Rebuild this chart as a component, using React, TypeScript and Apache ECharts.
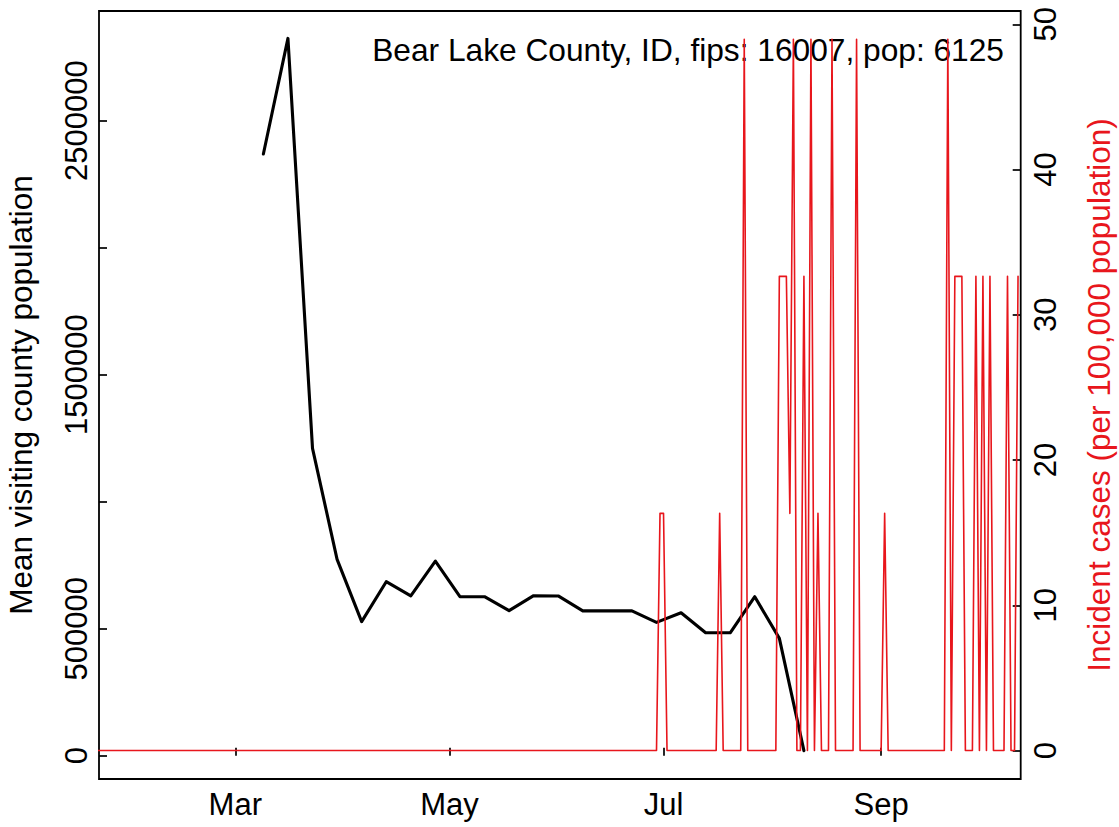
import React, { useEffect, useRef } from "react";
import * as echarts from "echarts";

// Weekly mean visiting county population (black line, left axis)
const visitDates = [
  "2020-03-09", "2020-03-16", "2020-03-23", "2020-03-30", "2020-04-06", "2020-04-13",
  "2020-04-20", "2020-04-27", "2020-05-04", "2020-05-11", "2020-05-18", "2020-05-25",
  "2020-06-01", "2020-06-08", "2020-06-15", "2020-06-22", "2020-06-29", "2020-07-06",
  "2020-07-13", "2020-07-20", "2020-07-27", "2020-08-03", "2020-08-10",
];
const visitValues = [
  2369000, 2824000, 1210000, 773000, 528000, 685000,
  629000, 766000, 626000, 626000, 571000, 630000,
  629000, 570000, 570000, 570000, 525000, 563000,
  484000, 484000, 626000, 462000, 20000,
];

// Daily incident cases per 100,000 (red line, right axis) - vertices of the line
const caseDates = [
  "2020-01-22", "2020-06-29", "2020-06-30", "2020-07-01", "2020-07-02", "2020-07-16",
  "2020-07-17", "2020-07-18", "2020-07-23", "2020-07-24", "2020-07-25", "2020-08-02",
  "2020-08-03", "2020-08-04", "2020-08-05", "2020-08-06", "2020-08-07", "2020-08-08",
  "2020-08-09", "2020-08-10", "2020-08-11", "2020-08-12", "2020-08-13", "2020-08-14",
  "2020-08-15", "2020-08-17", "2020-08-18", "2020-08-19", "2020-08-24", "2020-08-25",
  "2020-08-26", "2020-09-01", "2020-09-02", "2020-09-03",
  "2020-09-19", "2020-09-20", "2020-09-21", "2020-09-22", "2020-09-23", "2020-09-24",
  "2020-09-25", "2020-09-27", "2020-09-28", "2020-09-29", "2020-09-30", "2020-10-01",
  "2020-10-02", "2020-10-03", "2020-10-06", "2020-10-07", "2020-10-08", "2020-10-09",
  "2020-10-10",
];
const caseValues = [
  0, 0, 16.33, 16.33, 0, 0,
  16.33, 0, 0, 48.98, 0, 0,
  32.65, 32.65, 32.65, 16.33, 48.98, 0,
  0, 32.65, 0, 48.98, 0, 16.33,
  0, 0, 48.98, 0, 0, 48.98,
  0, 0, 16.33, 0,
  0, 48.98, 0, 32.65, 32.65, 32.65,
  0, 0, 32.65, 0, 32.65, 0,
  32.65, 0, 0, 32.65, 0, 0,
  32.65,
];

const monthTickDates = ["2020-03-01", "2020-05-01", "2020-07-01", "2020-09-01"];
const monthTickLabels = ["Mar", "May", "Jul", "Sep"];
const leftTickValues = [0, 500000, 1000000, 1500000, 2000000, 2500000];
const leftLabelValues = [0, 500000, 1500000, 2500000];
const rightTickValues = [0, 10, 20, 30, 40, 50];

const titleText = "Bear Lake County, ID, fips: 16007, pop: 6125";
const leftAxisName = "Mean visiting county population";
const rightAxisName = "Incident cases (per 100,000 population)";

const toTs = (s: string) => {
  const [y, m, d] = s.split("-").map(Number);
  return Date.UTC(y, m - 1, d);
};
const DAY = 86400000;
const FONT = "'Liberation Sans', Arial, Helvetica, sans-serif";
const RED = "#E8161C";

export default function App() {
  const ref = useRef<HTMLDivElement>(null);

  useEffect(() => {
    if (!ref.current) return;
    const chart = echarts.init(ref.current, null, { renderer: "svg" });
    const mar1 = toTs("2020-03-01");
    const monthTs = monthTickDates.map(toTs);

    chart.setOption({
      animation: false,
      backgroundColor: "#ffffff",
      grid: {
        left: 99,
        right: 98.3,
        top: 11,
        bottom: 48,
        show: true,
        borderColor: "#000",
        borderWidth: 1.8,
        backgroundColor: "transparent",
        containLabel: false,
        outerBoundsMode: "none",
      },
      xAxis: {
        type: "value",
        min: mar1 - 38.83 * DAY,
        max: mar1 + 223.76 * DAY,
        axisLine: { show: false },
        splitLine: { show: false },
        axisTick: {
          show: true,
          inside: true,
          length: 8,
          lineStyle: { color: "#000", width: 1.7 },
          customValues: monthTs,
        },
        axisLabel: {
          show: true,
          margin: 10,
          color: "#000",
          fontSize: 31,
          fontFamily: FONT,
          customValues: monthTs,
          formatter: (v: number) => {
            let best = 0;
            monthTs.forEach((t, i) => {
              if (Math.abs(t - v) < Math.abs(monthTs[best] - v)) best = i;
            });
            return monthTickLabels[best];
          },
        },
      },
      yAxis: [
        {
          type: "value",
          position: "left",
          min: -91732,
          max: 2931890,
          axisLine: { show: false },
          splitLine: { show: false },
          axisTick: {
            show: true,
            inside: true,
            length: 8,
            lineStyle: { color: "#000", width: 1.7 },
            customValues: leftTickValues,
          },
          axisLabel: {
            show: true,
            rotate: 90,
            margin: 7,
            color: "#000",
            fontSize: 31,
            fontFamily: FONT,
            customValues: leftLabelValues,
            formatter: (v: number) => String(Math.round(v)),
          },
          name: leftAxisName,
          nameLocation: "middle",
          nameGap: 62,
          nameTextStyle: { color: "#000", fontSize: 31.5, fontFamily: FONT },
        },
        {
          type: "value",
          position: "right",
          min: -1.96,
          max: 50.92,
          axisLine: { show: false },
          splitLine: { show: false },
          axisTick: {
            show: true,
            inside: true,
            length: 8,
            lineStyle: { color: "#000", width: 1.7 },
            customValues: rightTickValues,
          },
          axisLabel: {
            show: true,
            rotate: 90,
            margin: 9,
            color: "#000",
            fontSize: 31,
            fontFamily: FONT,
            customValues: rightTickValues,
            formatter: (v: number) => String(Math.round(v)),
          },
          name: rightAxisName,
          nameLocation: "middle",
          nameGap: 62,
          nameTextStyle: { color: RED, fontSize: 31.5, fontFamily: FONT },
        },
      ],
      graphic: [
        {
          type: "text",
          right: 1119 - 1004,
          top: 34,
          style: {
            text: titleText,
            fill: "#000",
            font: `31.7px ${FONT}`,
            textAlign: "right",
          },
          z: 0,
        },
      ],
      series: [
        {
          type: "line",
          name: "visitors",
          xAxisIndex: 0,
          yAxisIndex: 0,
          data: visitDates.map((d, i) => [toTs(d), visitValues[i]]),
          showSymbol: false,
          symbol: "none",
          lineStyle: { color: "#000", width: 3.1, join: "round", cap: "round" },
          z: 3,
        },
        {
          type: "line",
          name: "cases",
          xAxisIndex: 0,
          yAxisIndex: 1,
          data: caseDates.map((d, i) => [toTs(d), caseValues[i]]),
          showSymbol: false,
          symbol: "none",
          lineStyle: { color: RED, width: 1.6, join: "round", cap: "round" },
          z: 4,
        },
      ],
    });

    return () => chart.dispose();
  }, []);

  return (
    <div
      ref={ref}
      style={{ position: "absolute", left: 0, top: 0, width: 1119, height: 827 }}
    />
  );
}
